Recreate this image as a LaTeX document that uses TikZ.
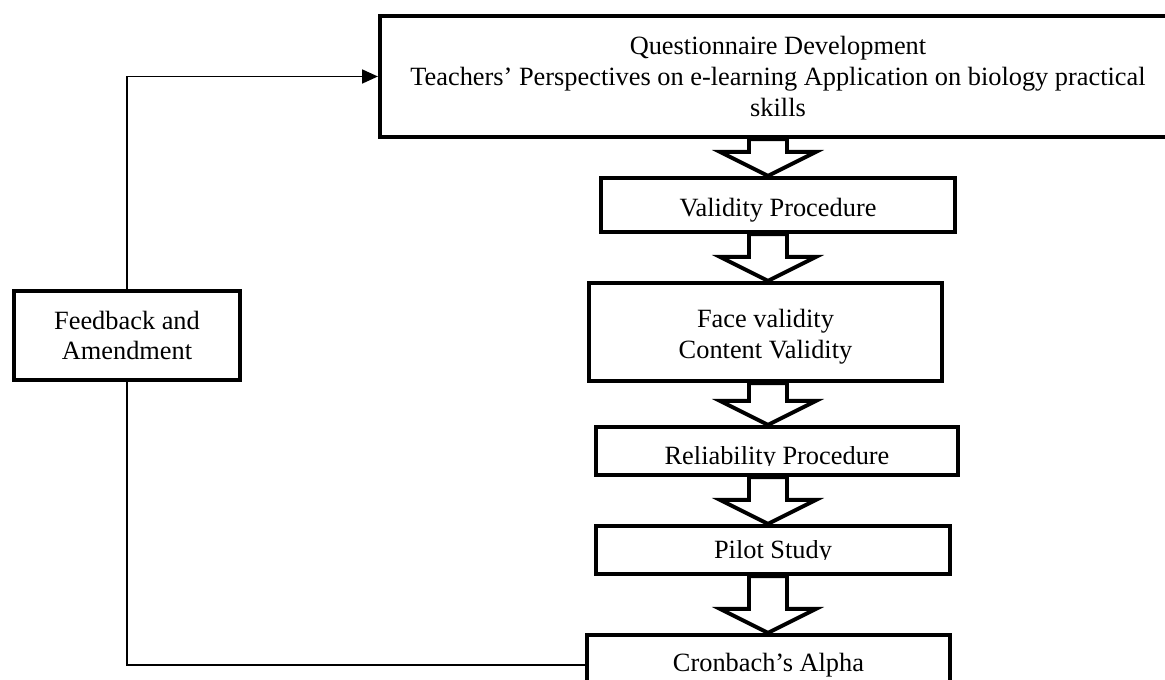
\documentclass[tikz,border=0pt]{standalone}
\usepackage{fontspec}
\setmainfont{Liberation Serif}
\usepackage{trimclip}
\usetikzlibrary{arrows.meta,calc}

\newcommand{\cut}[1]{\clipbox{0pt 2.6pt 0pt 0pt}{#1}}
\newcommand{\sink}[1]{\raisebox{-2.8pt}[\height][\depth]{#1}}

\tikzset{
  box/.style={draw, line width=2.4pt, align=center, inner sep=0pt,
    font=\fontsize{15}{17.5}\selectfont},
  link/.style={line width=0.8pt},
  blockarrow/.style={draw, line width=2.2pt, fill=white,
    to path={let \p1=(\tikztostart), \p2=(\tikztotarget) in
      (\x1-0.38cm,\y1) -- (\x1-0.38cm,\y2+0.48cm) -- (\x1-0.96cm,\y2+0.48cm)
      -- (\x2,\y2) -- (\x1+0.96cm,\y2+0.48cm) -- (\x1+0.38cm,\y2+0.48cm)
      -- (\x1+0.38cm,\y1) -- cycle}}
}

\begin{document}
\begin{tikzpicture}
\useasboundingbox (0,0) rectangle (23.3,13.6);
%
\node (q) [box, minimum width=15.92cm, minimum height=2.42cm] at (15.56,12.07)
  {Questionnaire Development\\Teachers’ Perspectives on e-learning Application on biology practical\\skills};
\node (v) [box, minimum width=7.08cm, minimum height=1.08cm] at (15.56,9.5) {\sink{Validity Procedure}};
\node (f) [box, minimum width=7.06cm, minimum height=1.96cm] at (15.31,6.96)
  {\sink{\begin{tabular}{@{}c@{}}Face validity\\Content Validity\end{tabular}}};
\node (r) [box, minimum width=7.24cm, minimum height=0.96cm] at (15.54,4.58) {\sink{\cut{Reliability Procedure}}};
\node (p) [box, minimum width=7.08cm, minimum height=0.96cm] at (15.46,2.6) {\cut{Pilot Study}};
\node (c) [box, minimum width=7.26cm, minimum height=1.2cm] at (15.37,0.3) {Cronbach’s Alpha};
\node (fb) [box, minimum width=4.52cm, minimum height=1.78cm] at (2.54,6.89) {Feedback and\\Amendment};
\coordinate (ax) at (15.36,0);

% block arrows down the column
\draw [blockarrow] (q.south -| ax) to (v.north -| ax);
\draw [blockarrow] (v.south -| ax) to (f.north -| ax);
\draw [blockarrow] (f.south -| ax) to (r.north -| ax);
\draw [blockarrow] (r.south -| ax) to (p.north -| ax);
\draw [blockarrow] (p.south -| ax) to (c.north -| ax);

% feedback loop
\draw [link, -{Triangle[length=9pt,width=8pt]}] (fb.north) |- (q.west);
\draw [link] (fb.south) |- (c.west);
\end{tikzpicture}
\end{document}
